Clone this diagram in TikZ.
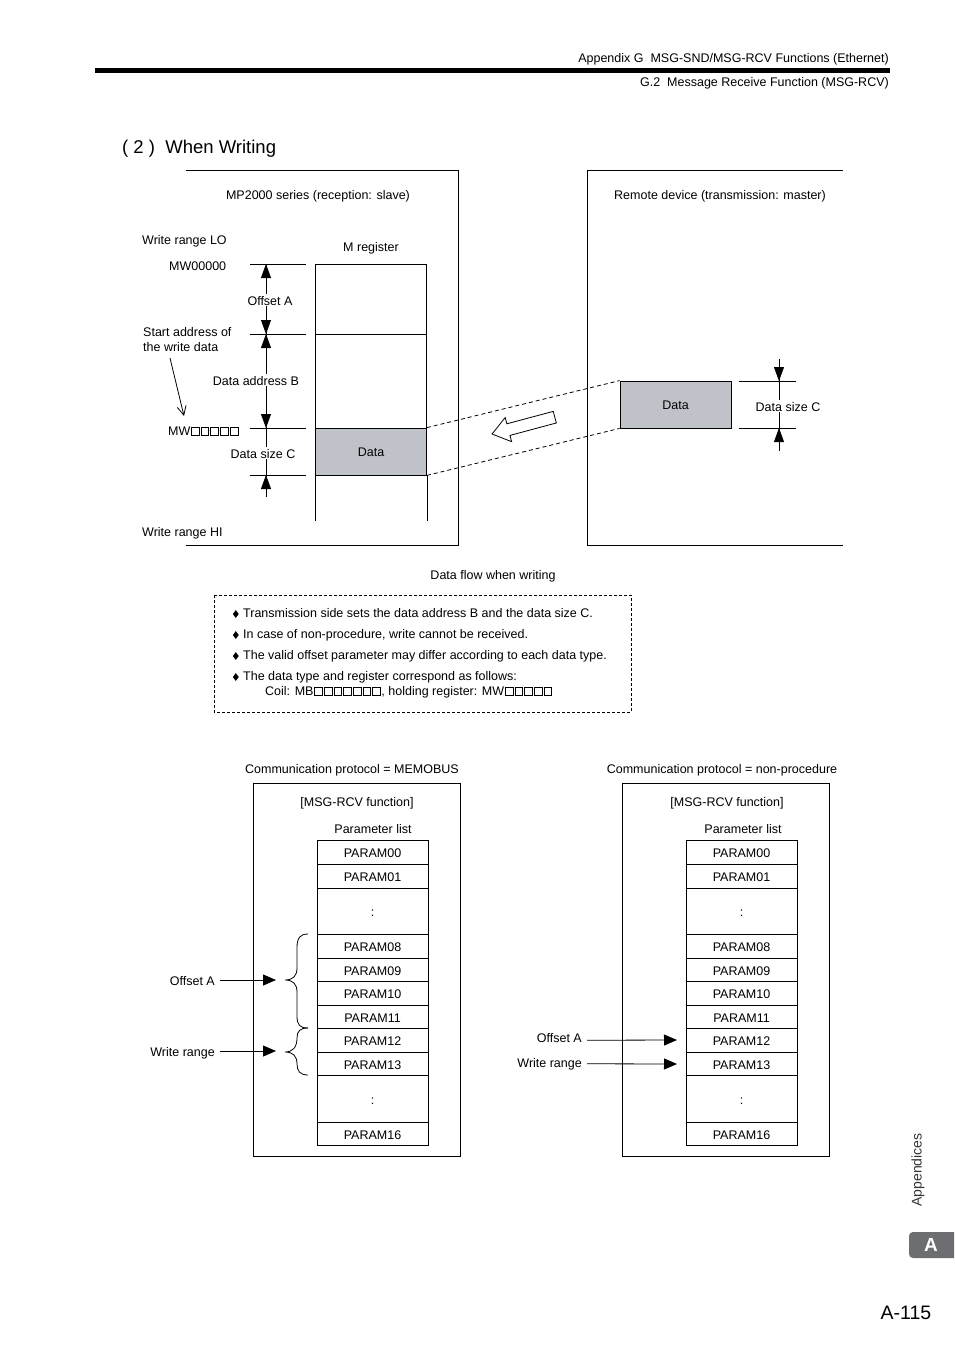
\documentclass[tikz,border=0pt]{standalone}
\usepackage{fontspec}
\setmainfont{Liberation Sans}
\usepackage{xcolor}
\definecolor{dataGray}{HTML}{BFC3C9}
\definecolor{tabGray}{HTML}{6D6E71}
\usetikzlibrary{arrows.meta,positioning,shapes.geometric}

% empty square placeholder for digits
\newcommand{\sqd}{\kern0.6pt{\fboxsep=0pt\fboxrule=0.75pt\fbox{\rule{0pt}{7.4pt}\hspace{7pt}}}\kern0.6pt}

\tikzset{
  txt/.style={font=\fontsize{12.5}{15}\selectfont, inner sep=1pt, text height=12.5pt, text depth=2pt},
  wtxt/.style={txt, fill=white, text height=10pt, text depth=0pt},
  thinline/.style={line width=0.8pt},
  tipT/.style={thinline, -{Triangle[length=14pt,width=10pt]}},
  ptrT/.style={thinline, shorten <=4pt, -{Triangle[length=13pt,width=11pt]}},
  pcell/.style={draw, thinline, txt, minimum width=111pt, inner sep=0pt},
  datacell/.style={pcell, fill=dataGray},
  bullet/.style={diamond, fill, inner sep=0pt, minimum width=6pt, minimum height=8pt},
}

\begin{document}
\begin{tikzpicture}[x=1pt, y=-1pt]
  \useasboundingbox (0,0) rectangle (954,1350);
  % page header
  \node[txt, anchor=east] (hdA) at (890,57) {Appendix G\ \ MSG-SND/MSG-RCV Functions (Ethernet)};
  \draw[line width=5pt] (95,70) -- (890,70);
  \node[txt, anchor=east] (hdB) at (890,81) {G.2\ \ Message Receive Function (MSG-RCV)};
  \node[anchor=west, inner sep=0pt, font=\fontsize{18.5}{22}\selectfont] (title) at (122,149) {( 2 )\ \ When Writing};

  % reception and transmission frames
  \draw[thinline] (186,170) -- (458,170) -- (458,545) -- (186,545);
  \node[txt] (rcvT) at (318,194) {MP2000 series (reception: slave)};
  \draw[thinline] (843,170) -- (587,170) -- (587,545) -- (843,545);
  \node[txt] (sndT) at (720,194) {Remote device (transmission: master)};

  % M register
  \node[txt] (mreg) at (371,246) {M register};
  \node[pcell, minimum height=70pt] (mA) at (371,299) {};
  \node[pcell, minimum height=94pt] (mB) at (371,381) {};
  \node[datacell, minimum height=47pt] (mData) at (371,451.5) {Data};
  \draw[thinline] (mData.south west) -- ++(0,46) (mData.south east) -- ++(0,46);
  \draw[line width=1.6pt] (mData.south west) -- (mData.south east);

  % dimension lines of the M register
  \foreach \yy in {264,334,428,475}
    \draw[thinline] (250,\yy) -- (306,\yy);
  \coordinate (d0) at (266,264);
  \coordinate (d1) at (266,334);
  \coordinate (d2) at (266,428);
  \coordinate (d3) at (266,475);
  \draw[thinline] (d0) -- (266,497);
  \draw[tipT] (266,280) -- (d0);
  \draw[tipT] (266,318) -- (d1);
  \draw[tipT] (266,350) -- (d1);
  \draw[tipT] (266,412) -- (d2);
  \draw[tipT] (266,491) -- (d3);
  \node[wtxt] (offA) at (270,300) {Offset A};
  \node[wtxt] (addrB) at (256,380) {Data address B};
  \node[wtxt] (sizeC) at (263,453) {Data size C};

  % left side texts
  \node[txt, anchor=west] (wrLO) at (141,239) {Write range LO};
  \node[txt, anchor=west] (mw0) at (168,265) {MW00000};
  \node[txt, anchor=west] (start1) at (142,331) {Start address of};
  \node[txt, anchor=west] (start2) at (142,346) {the write data};
  \coordinate (startTip) at (184,416);
  \draw[thinline, -{Straight Barb[length=9pt,width=9pt]}] (170,358) -- (startTip);
  \node[txt, anchor=west] (mwX) at (167,430) {MW\sqd\sqd\sqd\sqd\sqd};
  \node[txt, anchor=west] (wrHI) at (141,531) {Write range HI};

  % remote data
  \node[datacell, minimum height=47pt] (rData) at (675.5,404.5) {Data};
  \foreach \yy in {381,428}
    \draw[thinline] (739,\yy) -- (796,\yy);
  \coordinate (r0) at (779,381);
  \coordinate (r1) at (779,428);
  \draw[thinline] (779,359) -- (779,451);
  \draw[tipT] (779,366) -- (r0);
  \draw[tipT] (779,443) -- (r1);
  \node[wtxt] (rSizeC) at (788,406) {Data size C};

  % data flow
  \draw[thinline, dash pattern=on 4pt off 3pt] (mData.north east) -- (rData.north west);
  \draw[thinline, dash pattern=on 4pt off 3pt] (mData.south east) -- (rData.south west);
  \begin{scope}[shift={(492,434)}, rotate=15]
    \draw[thinline, fill=white] (0,0) -- (17,-12.5) -- (17,-6) -- (65,-6) -- (65,6) -- (17,6) -- (17,12.5) -- cycle;
  \end{scope}
  \node[txt] (flowcap) at (493,574) {Data flow when writing};

  % notes
  \draw[thinline, dash pattern=on 3pt off 2pt] (214,595) rectangle (631,712);
  \foreach \i/\yy/\t in {1/612/{Transmission side sets the data address B and the data size C.},
                         2/633/{In case of non-procedure, write cannot be received.},
                         3/654/{The valid offset parameter may differ according to each data type.},
                         4/675/{The data type and register correspond as follows:}} {
    \node[txt, anchor=west] (note\i) at (242,\yy) {\t};
    \node[bullet, left=3pt of note\i.west, yshift=-2pt] (dia\i) {};
  }
  \node[txt, anchor=west] (note5) at (264,690) {Coil: MB\sqd\sqd\sqd\sqd\sqd\sqd\sqd, holding register: MW\sqd\sqd\sqd\sqd\sqd};

  % parameter lists
  \node[txt] (protoL) at (352,768) {Communication protocol = MEMOBUS};
  \draw[thinline] (253,783) rectangle (460,1156);
  \node[txt] (fnL) at (357,801) {[MSG-RCV function]};
  \node[txt] (plL) at (373,828) {Parameter list};
  \node[txt] (protoR) at (722,768) {Communication protocol = non-procedure};
  \draw[thinline] (622,783) rectangle (829,1156);
  \node[txt] (fnR) at (727,801) {[MSG-RCV function]};
  \node[txt] (plR) at (743,828) {Parameter list};
  \foreach \s/\xc in {L/372.5, R/741.5}
    \foreach \nm/\t/\yc/\h in {p00/PARAM00/852.5/23.5, p01/PARAM01/876.25/23.5, pa/:/911/46,
                               p08/PARAM08/946/24, p09/PARAM09/969.75/23.5, p10/PARAM10/993.25/23.5,
                               p11/PARAM11/1016.75/23.5, p12/PARAM12/1040.25/23.5, p13/PARAM13/1063.75/23.5,
                               pb/:/1098.75/46.5, p16/PARAM16/1133.75/23.5}
      \node[pcell, minimum height=\h pt] (\s\nm) at (\xc,\yc) {\t};

  % braces (MEMOBUS)
  \draw[thinline] (308,934) .. controls (300,934) and (297,938) .. (297,948) -- (297,968)
    .. controls (297,976) and (293,980) .. (285,980) .. controls (293,980) and (297,984) .. (297,992)
    -- (297,1016) .. controls (297,1025) and (300,1028) .. (308,1028);
  \draw[thinline] (308,1028) .. controls (300,1028) and (297,1031) .. (297,1038)
    .. controls (297,1047) and (293,1052) .. (285,1052) .. controls (293,1052) and (297,1056) .. (297,1064)
    .. controls (297,1071) and (300,1075) .. (308,1075);
  \coordinate (offLtip) at (276,980);
  \coordinate (wrLtip) at (276,1051);
  \node[txt, anchor=east] (offL) at (216,980) {Offset A};
  \draw[ptrT] (offL.east) -- (offLtip);
  \node[txt, anchor=east] (wrL) at (216,1051) {Write range};
  \draw[ptrT] (wrL.east) -- (wrLtip);

  % pointers (non-procedure)
  \coordinate (offRtip) at (677,1040);
  \coordinate (wrRtip) at (677,1064);
  \node[txt, anchor=east] (offR) at (583,1037) {Offset A};
  \draw[ptrT] (offR.east |- Rp12.west) -- (offRtip);
  \node[txt, anchor=east] (wrR) at (583,1062) {Write range};
  \draw[ptrT] (wrR.east |- Rp13.west) -- (wrRtip);

  % side tab and page number
  \node[rotate=90, inner sep=0pt, text=black!80, font=\fontsize{14}{14}\selectfont] (appx) at (918,1170) {Appendices};
  \fill[tabGray] (954,1232) [rounded corners=4pt] -- (909,1232) -- (909,1258) [sharp corners] -- (954,1258) -- cycle;
  \node[text=white, font=\bfseries\fontsize{19}{19}\selectfont] (tabA) at (931,1245) {A};
  \node[font=\fontsize{19.5}{20}\selectfont] (pgno) at (906,1313) {A-115};
\end{tikzpicture}
\end{document}
